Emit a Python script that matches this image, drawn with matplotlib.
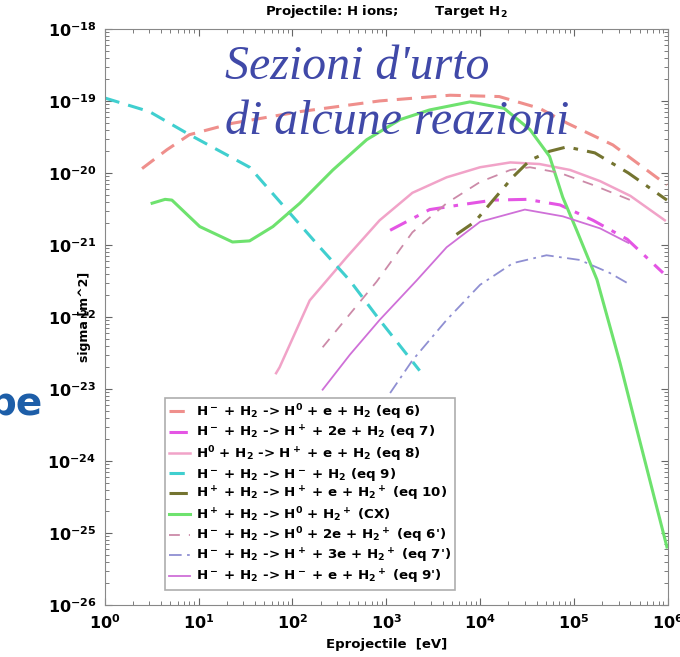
import matplotlib.pyplot as plt
import numpy as np

plt.rcParams['mathtext.default'] = 'bf'

# energies [eV] and cross sections [m^2]
e_eq6 = [2.5, 4.6, 8, 23, 120, 850, 4800, 16000, 43000, 85000, 2.6e5, 9.8e5]
s_eq6 = [1.15e-20, 2.1e-20, 3.4e-20, 4.9e-20, 7.1e-20, 1.0e-19, 1.2e-19, 1.15e-19,
         7.9e-20, 4.9e-20, 2.45e-20, 6.8e-21]

e_eq7 = [1100, 2900, 6100, 13800, 31500, 71000, 1.6e5, 3.7e5, 8.9e5]
s_eq7 = [1.6e-21, 3.1e-21, 3.6e-21, 4.2e-21, 4.3e-21, 3.6e-21, 2.2e-21, 1.2e-21, 4.1e-22]

e_eq8 = [67, 73, 153, 380, 850, 1900, 4400, 10000, 21000, 43000, 91000, 1.9e5, 4e5, 9.3e5]
s_eq8 = [1.66e-23, 2.0e-23, 1.7e-22, 6.8e-22, 2.2e-21, 5.3e-21, 8.7e-21, 1.2e-20,
         1.4e-20, 1.33e-20, 1.1e-20, 7.7e-21, 4.8e-21, 2.2e-21]

e_eq9 = [1, 3, 8, 35, 87, 196, 410, 850, 2270]
s_eq9 = [1.1e-19, 7.1e-20, 3.4e-20, 1.2e-20, 3.1e-21, 9.3e-22, 3.2e-22, 9.1e-23, 1.8e-23]

e_eq10 = [5600, 8800, 13800, 22400, 34000, 55000, 84000, 1.67e5, 3.8e5, 9.8e5]
s_eq10 = [1.4e-21, 2.1e-21, 4.2e-21, 8.8e-21, 1.5e-20, 2.0e-20, 2.3e-20, 1.9e-20,
          1.0e-20, 4.2e-21]

e_cx = [3.2, 4.4, 5.2, 10.3, 23, 35, 62, 120, 270, 620, 1400, 2900, 7800, 18000,
        34000, 55000, 76000, 1.07e5, 1.76e5, 3.1e5, 4.7e5, 9.8e5]
s_cx = [3.8e-21, 4.3e-21, 4.2e-21, 1.8e-21, 1.1e-21, 1.14e-21, 1.8e-21, 3.8e-21,
        1.1e-20, 2.9e-20, 5.5e-20, 7.5e-20, 9.7e-20, 7.9e-20, 4e-20, 1.7e-20,
        4.6e-21, 1.6e-21, 3.3e-22, 2.3e-23, 2.7e-24, 6.4e-26]

e_eq6p = [210, 410, 790, 1900, 4400, 10000, 21000, 34000, 71000, 1.6e5, 4e5]
s_eq6p = [3.8e-23, 1.1e-22, 3.1e-22, 1.5e-21, 3.8e-21, 7.5e-21, 1.1e-20, 1.2e-20,
          1.0e-20, 6.8e-21, 4.2e-21]

e_eq7p = [1100, 1900, 4400, 10000, 22400, 51000, 1.15e5, 2.4e5, 4e5]
s_eq7p = [8.8e-24, 2.5e-23, 9.1e-23, 2.8e-22, 5.6e-22, 7.2e-22, 6.2e-22, 4.1e-22, 2.8e-22]

e_eq9p = [210, 410, 850, 2100, 4400, 10000, 30000, 76000, 1.9e5, 3.8e5]
s_eq9p = [9.8e-24, 3.0e-23, 9.1e-23, 3.2e-22, 9.3e-22, 2.1e-21, 3.1e-21, 2.5e-21,
          1.7e-21, 1.07e-21]

labels = [
    r"H$^-$ + H$_2$ -> H$^0$ + e + H$_2$ (eq 6)",
    r"H$^-$ + H$_2$ -> H$^+$ + 2e + H$_2$ (eq 7)",
    r"H$^0$ + H$_2$ -> H$^+$ + e + H$_2$ (eq 8)",
    r"H$^-$ + H$_2$ -> H$^-$ + H$_2$ (eq 9)",
    r"H$^+$ + H$_2$ -> H$^+$ + e + H$_2$$^+$ (eq 10)",
    r"H$^+$ + H$_2$ -> H$^0$ + H$_2$$^+$ (CX)",
    r"H$^-$ + H$_2$ -> H$^0$ + 2e + H$_2$$^+$ (eq 6')",
    r"H$^-$ + H$_2$ -> H$^+$ + 3e + H$_2$$^+$ (eq 7')",
    r"H$^-$ + H$_2$ -> H$^-$ + e + H$_2$$^+$ (eq 9')",
]

fig = plt.figure(figsize=(6.8, 6.57), dpi=100)
ax = fig.add_axes([0.154, 0.079, 0.828, 0.877])

ax.plot(e_eq6, s_eq6, color="#ef8f8c", ls=(0, (5, 3)), lw=2.2, label=labels[0])
ax.plot(e_eq7, s_eq7, color="#e455e4", ls=(0, (6, 3, 1.5, 3)), lw=2.2, label=labels[1])
ax.plot(e_eq8, s_eq8, color="#f1a3c8", ls="-", lw=1.8, label=labels[2])
ax.plot(e_eq9, s_eq9, color="#40cfcf", ls=(0, (5, 3)), lw=2.2, label=labels[3])
ax.plot(e_eq10, s_eq10, color="#747430", ls=(0, (6, 3, 1.5, 3)), lw=2.2, label=labels[4])
ax.plot(e_cx, s_cx, color="#6ee26e", ls="-", lw=2.2, label=labels[5])
ax.plot(e_eq6p, s_eq6p, color="#cc8aa8", ls=(0, (6, 5)), lw=1.3, label=labels[6])
ax.plot(e_eq7p, s_eq7p, color="#8f8fd2", ls=(0, (7, 3, 1.5, 3)), lw=1.3, label=labels[7])
ax.plot(e_eq9p, s_eq9p, color="#cf70d8", ls="-", lw=1.3, label=labels[8])

ax.set_xscale("log")
ax.set_yscale("log")
ax.set_xlim(1, 1e6)
ax.set_ylim(1e-26, 1e-18)
ax.set_yticks([10.0 ** k for k in range(-26, -17)])

for s in ax.spines.values():
    s.set_color("#888888")
ax.tick_params(which="both", direction="in", top=True, right=True, color="#666666")
ax.tick_params(which="major", length=5, labelsize=11.5, pad=6)
ax.tick_params(which="minor", length=3)
for t in ax.get_xticklabels() + ax.get_yticklabels():
    t.set_fontweight("bold")

ax.set_xlabel("Eprojectile  [eV]", fontsize=9.5, fontweight="bold", labelpad=4)
ax.set_ylabel("sigma [m^2]", fontsize=9, fontweight="bold")
ax.yaxis.set_label_coords(-0.025, 0.5)

ax.set_title("Projectile: H ions;        Target H$_2$", fontsize=9.5,
             fontweight="bold", pad=10)

leg = ax.legend(loc="lower left", bbox_to_anchor=(0.095, 0.015), fontsize=9.6,
                handlelength=1.6, handletextpad=0.4, labelspacing=0.15,
                borderpad=0.3, frameon=True, fancybox=False, edgecolor="#999999")
leg.get_frame().set_linewidth(1.2)
for t in leg.get_texts():
    t.set_fontweight("bold")

fig.text(0.331, 0.879, "Sezioni d'urto", family="Liberation Serif", style="italic",
         fontsize=34.5, color="#4049a8")
fig.text(0.331, 0.796, "di alcune reazioni", family="Liberation Serif", style="italic",
         fontsize=34.5, color="#4049a8")
fig.text(-0.016, 0.368, "pe", fontsize=28, fontweight="bold", color="#1d5ea8")

fig.savefig("out.png", dpi=100)
